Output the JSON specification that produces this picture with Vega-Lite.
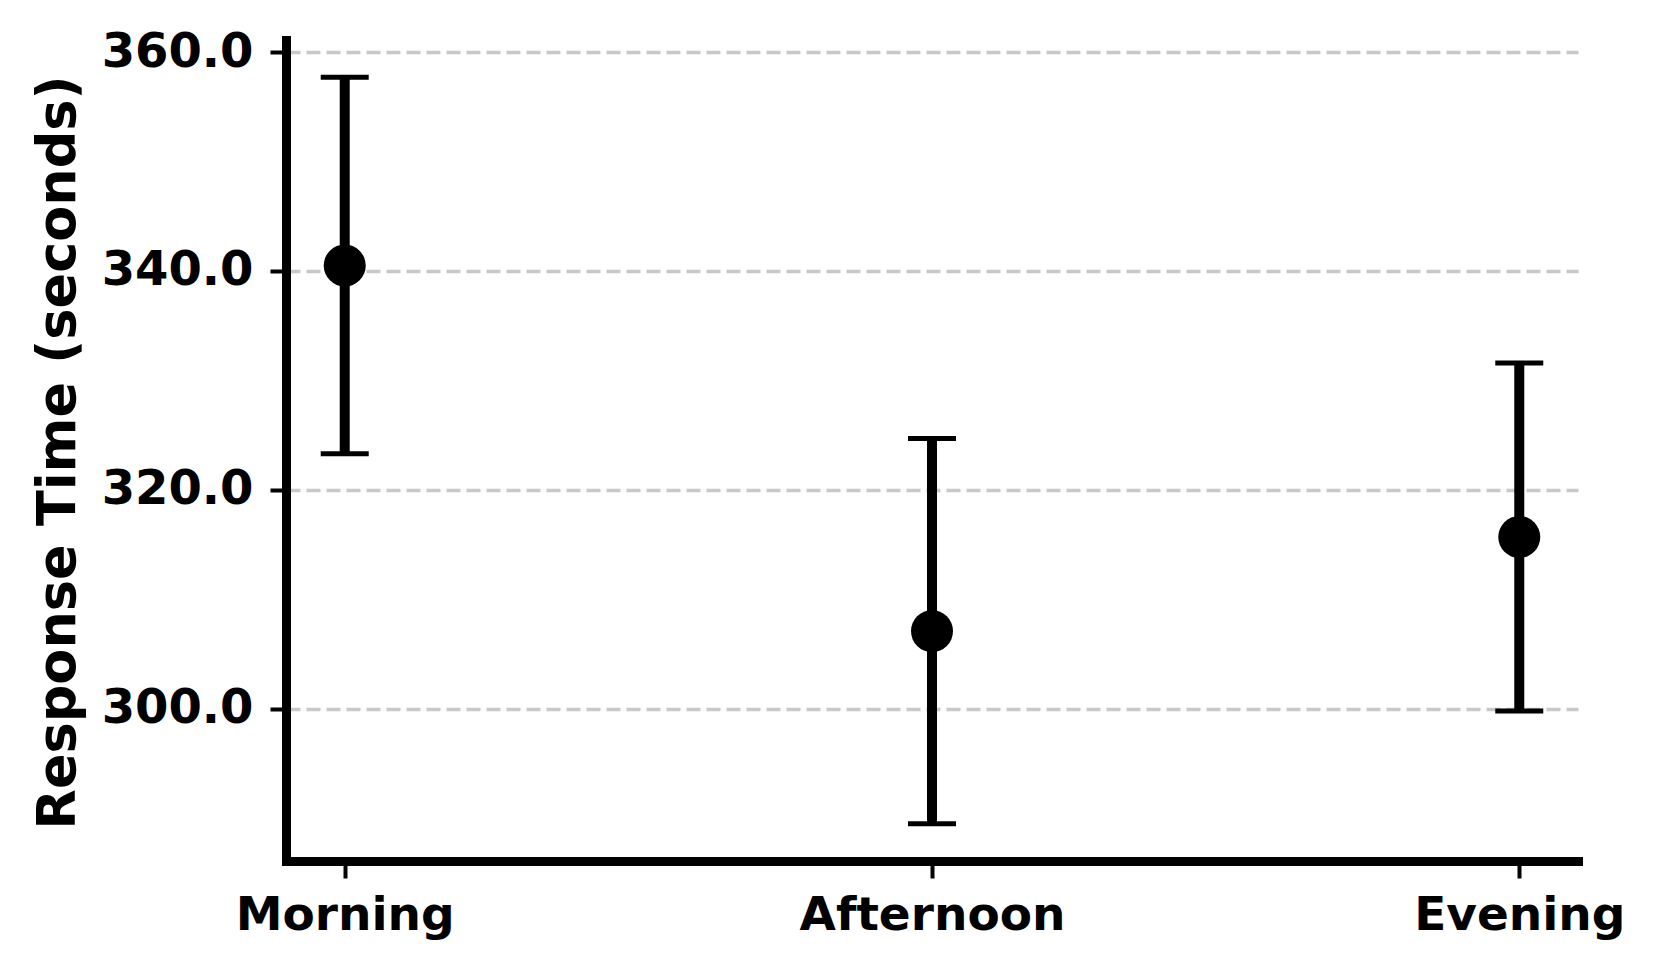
{
  "$schema": "https://vega.github.io/schema/vega-lite/v6.json",
  "width": 1292,
  "height": 821,
  "autosize": {"type": "none"},
  "padding": {"left": 286, "top": 40, "right": 82, "bottom": 114},
  "background": "white",
  "data": {
    "values": [
      {"period": "Morning", "mean": 340.5, "lower": 323.3, "upper": 357.7},
      {"period": "Afternoon", "mean": 307.1, "lower": 289.5, "upper": 324.7},
      {"period": "Evening", "mean": 315.7, "lower": 299.8, "upper": 331.6}
    ]
  },
  "config": {
    "view": {"stroke": null},
    "axis": {
      "domainColor": "black",
      "domainWidth": 9,
      "domainCap": "square",
      "tickColor": "black",
      "tickWidth": 4,
      "labelFont": "DejaVu Sans",
      "labelFontWeight": "bold",
      "labelFontSize": 47,
      "labelColor": "black",
      "labelLimit": 0,
      "titleFont": "DejaVu Sans",
      "titleFontWeight": "bold",
      "titleFontSize": 52.5,
      "titleColor": "black"
    }
  },
  "encoding": {
    "x": {
      "field": "period",
      "type": "nominal",
      "sort": ["Morning", "Afternoon", "Evening"],
      "scale": {"type": "point", "padding": 0.1},
      "axis": {
        "title": null,
        "labelAngle": 0,
        "labelLimit": 0,
        "tickSize": 17,
        "labelPadding": 14,
        "grid": false
      }
    }
  },
  "layer": [
    {
      "mark": {"type": "rule", "color": "black", "strokeWidth": 10, "opacity": 1},
      "encoding": {
        "y": {
          "field": "lower",
          "type": "quantitative",
          "scale": {"domain": [286.1, 361.1], "nice": false, "zero": false},
          "axis": {
            "title": "Response Time (seconds)",
            "format": ".1f",
            "values": [300, 320, 340, 360],
            "tickSize": 16,
            "labelPadding": 17,
            "labelFontSize": 48,
            "grid": true,
            "gridColor": "#c8c8c8",
            "gridDash": [14, 6],
            "gridWidth": 3.5,
            "titleAngle": 270,
            "titleX": -212,
            "titleY": 412,
            "titleAlign": "center",
            "titleBaseline": "alphabetic"
          }
        },
        "y2": {"field": "upper"}
      }
    },
    {
      "mark": {"type": "tick", "color": "black", "opacity": 1, "size": 48, "thickness": 5, "orient": "horizontal"},
      "encoding": {"y": {"field": "lower", "type": "quantitative"}}
    },
    {
      "mark": {"type": "tick", "color": "black", "opacity": 1, "size": 48, "thickness": 5, "orient": "horizontal"},
      "encoding": {"y": {"field": "upper", "type": "quantitative"}}
    },
    {
      "mark": {"type": "point", "shape": "circle", "filled": true, "color": "black", "opacity": 1, "size": 1764},
      "encoding": {"y": {"field": "mean", "type": "quantitative"}}
    }
  ]
}
